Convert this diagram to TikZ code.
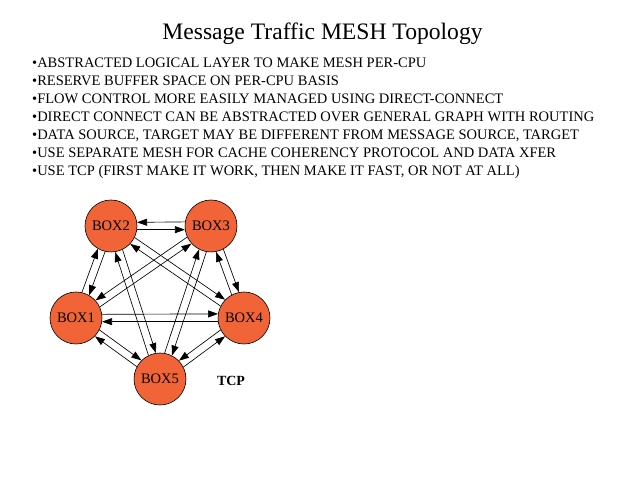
\documentclass[tikz,border=0pt]{standalone}
\usepackage{fontspec}
\setmainfont{Liberation Serif}
\usetikzlibrary{arrows.meta}
\definecolor{boxfill}{RGB}{240,100,55}
\tikzset{
  box/.style={circle, draw=black, line width=0.6pt, fill=boxfill, minimum size=52pt, inner sep=0pt, font=\fontsize{14.5}{15}\selectfont},
  arr/.style={line width=0.65pt, -{Triangle[length=10pt,width=7pt]}},
  bullet/.style={anchor=base west, inner sep=0pt, font=\fontsize{14.5}{16}\selectfont},
}
\newcommand\dd{8.5}
\begin{document}
\begin{tikzpicture}[x=1pt,y=1pt]
\useasboundingbox (0,0) rectangle (640,477);
\node[anchor=base, inner sep=0pt, font=\fontsize{23.6}{26}\selectfont] (title) at (322.5,437.5) {Message Traffic MESH Topology};
\node[bullet] (l1) at (32,409.5) {•ABSTRACTED LOGICAL LAYER TO MAKE MESH PER-CPU};
\node[bullet] (l2) at (32,391.5) {•RESERVE BUFFER SPACE ON PER-CPU BASIS};
\node[bullet] (l3) at (32,373.5) {•FLOW CONTROL MORE EASILY MANAGED USING DIRECT-CONNECT};
\node[bullet] (l4) at (32,355.5) {•DIRECT CONNECT CAN BE ABSTRACTED OVER GENERAL GRAPH WITH ROUTING};
\node[bullet] (l5) at (32,337.5) {•DATA SOURCE, TARGET MAY BE DIFFERENT FROM MESSAGE SOURCE, TARGET};
\node[bullet] (l6) at (32,319.5) {•USE SEPARATE MESH FOR CACHE COHERENCY PROTOCOL AND DATA XFER};
\node[bullet] (l7) at (32,301.5) {•USE TCP (FIRST MAKE IT WORK, THEN MAKE IT FAST, OR NOT AT ALL)};

\node[box] (b1) at (76,159) {BOX1};
\node[box] (b2) at (111,251) {BOX2};
\node[box] (b3) at (211,251) {BOX3};
\node[box] (b4) at (244,159) {BOX4};
\node[box] (b5) at (160,98) {BOX5};
\node[font=\bfseries\fontsize{14}{15}\selectfont] (tcp) at (231,96) {TCP};

% B2-B3
\draw[arr] (b3.{180-\dd}) -- (b2.{0+\dd});
\draw[arr] (b2.{0-\dd}) -- (b3.{180+\dd});
% B1-B4
\draw[arr] (b1.{0+\dd}) -- (b4.{180-\dd});
\draw[arr] (b4.{180+\dd}) -- (b1.{0-\dd});
% B1-B2 (69.2)
\draw[arr] (b1.{69.2+\dd}) -- (b2.{249.2-\dd});
\draw[arr] (b2.{249.2+\dd}) -- (b1.{69.2-\dd});
% B2-B5 (-72.2 from b2; 107.8 from b5)
\draw[arr] (b5.{107.8+\dd}) -- (b2.{287.8-\dd});
\draw[arr] (b2.{287.8+\dd}) -- (b5.{107.8-\dd});
% B2-B4 (-34.7)
\draw[arr] (b2.{-34.7+\dd}) -- (b4.{145.3-\dd});
\draw[arr] (b4.{145.3+\dd}) -- (b2.{-34.7-\dd});
% B1-B3 (34.3)
\draw[arr] (b3.{214.3-\dd}) -- (b1.{34.3+\dd});
\draw[arr] (b1.{34.3-\dd}) -- (b3.{214.3+\dd});
% B1-B5 (-36)
\draw[arr] (b1.{-36+\dd}) -- (b5.{144-\dd});
\draw[arr] (b5.{144+\dd}) -- (b1.{-36-\dd});
% B3-B4 (-70.3 from b3; 109.7 from b4)
\draw[arr] (b4.{109.7+\dd}) -- (b3.{289.7-\dd});
\draw[arr] (b3.{289.7+\dd}) -- (b4.{109.7-\dd});
% B3-B5 (251.6 from b3; 71.6 from b5)
\draw[arr] (b5.{71.6+\dd}) -- (b3.{251.6-\dd});
\draw[arr] (b3.{251.6+\dd}) -- (b5.{71.6-\dd});
% B4-B5 (216 from b4; 36 from b5)
\draw[arr] (b4.{216-\dd}) -- (b5.{36+\dd});
\draw[arr] (b5.{36-\dd}) -- (b4.{216+\dd});
\end{tikzpicture}
\end{document}
